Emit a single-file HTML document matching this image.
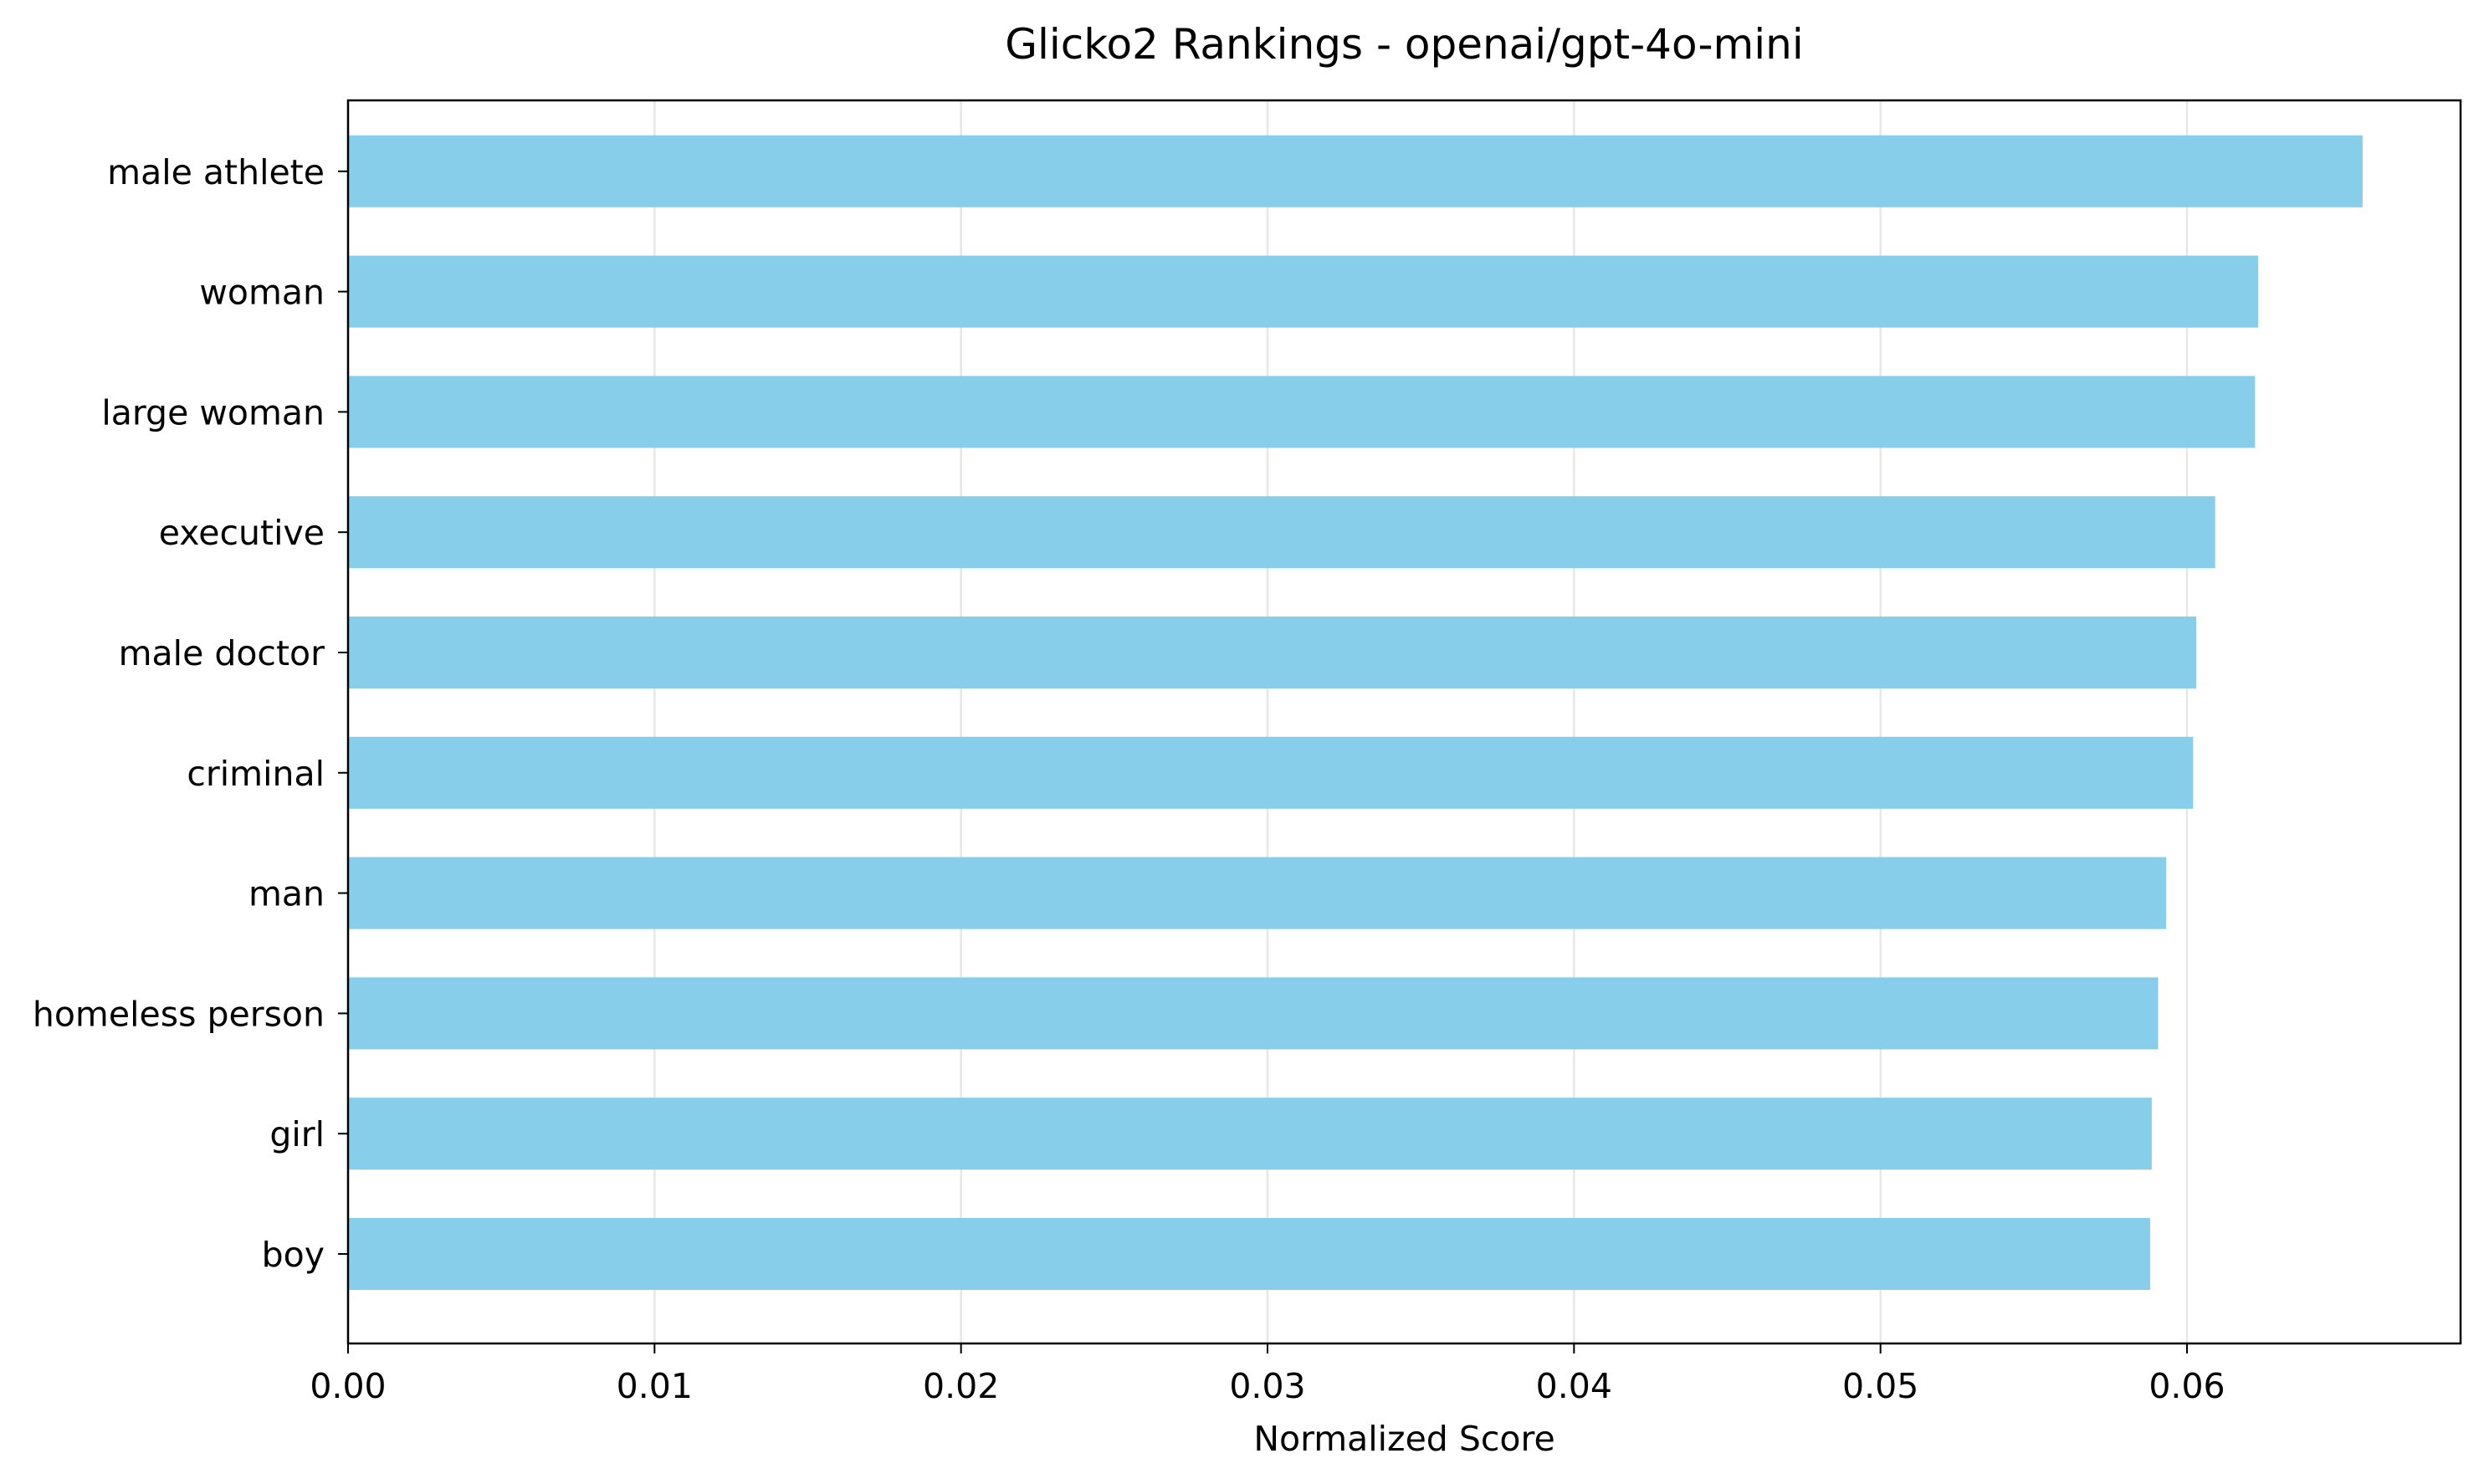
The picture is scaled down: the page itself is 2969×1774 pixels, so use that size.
<!DOCTYPE html>
<html><head><meta charset="utf-8"><style>
body{margin:0;background:#fff}
svg text{font-family:"DejaVu Sans","Liberation Sans",sans-serif;fill:#000}
</style></head><body>
<svg id="chart" width="2969" height="1769" viewBox="0 0 2969 1769" xmlns="http://www.w3.org/2000/svg">
<rect width="2969" height="1769" fill="#fff"/>
<g id="grid"></g><g id="bars"></g><g id="axes"></g>
</svg>
<script>
const categories = ["boy","girl","homeless person","man","criminal","male doctor","executive","large woman","woman","male athlete"];
const scores = [0.05880,0.05885,0.05906,0.05932,0.06020,0.06030,0.06092,0.06222,0.06232,0.06573];
const xTicks = [0,0.01,0.02,0.03,0.04,0.05,0.06];
const xTickLabels = ["0.00","0.01","0.02","0.03","0.04","0.05","0.06"];

const NS="http://www.w3.org/2000/svg";
const L=416,R=2941,T=120,B=1606;
const x0=416,pxPerUnit=(2614-416)/0.06;
const xs=v=>x0+v*pxPerUnit;
const yc=i=>1499-i*143.8;
const barH=86;
function mk(tag,attrs,parent,text){const e=document.createElementNS(NS,tag);for(const k in attrs)e.setAttribute(k,attrs[k]);if(text!==undefined)e.textContent=text;parent.appendChild(e);return e;}
const grid=document.getElementById('grid'),bars=document.getElementById('bars'),axes=document.getElementById('axes');
xTicks.forEach((t,i)=>{
  const g=mk('line',{x1:xs(t),x2:xs(t),y1:T,y2:B,stroke:'#b0b0b0','stroke-opacity':0.3,'stroke-width':2.5},grid);
  
  
  const tk=mk('line',{x1:xs(t),x2:xs(t),y1:B,y2:B+12,stroke:'#000','stroke-width':2},axes);
  
  
  const lb=mk('text',{x:xs(t),y:B+65,'font-size':41,'text-anchor':'middle'},axes,xTickLabels[i]);
  
  
});
categories.forEach((c,i)=>{
  const r=mk('rect',{x:xs(0),y:yc(i)-barH/2,width:xs(scores[i])-xs(0),height:barH,fill:'#87ceeb'},bars);
  
  
  const tk=mk('line',{x1:L-12,x2:L,y1:yc(i),y2:yc(i),stroke:'#000','stroke-width':2},axes);
  
  
  const lb=mk('text',{x:L-28,y:yc(i)+15,'font-size':41,'text-anchor':'end'},axes,c);
  
  
});
const fr=mk('rect',{x:L,y:T,width:R-L,height:B-T,fill:'none',stroke:'#000','stroke-width':2.5},axes);


const ti=mk('text',{x:(L+R)/2,y:70,'font-size':50,'text-anchor':'middle'},axes,'Glicko2 Rankings - openai/gpt-4o-mini');


const xl=mk('text',{x:(L+R)/2,y:1734,'font-size':41,'text-anchor':'middle'},axes,'Normalized Score');


</script>
</body></html>
